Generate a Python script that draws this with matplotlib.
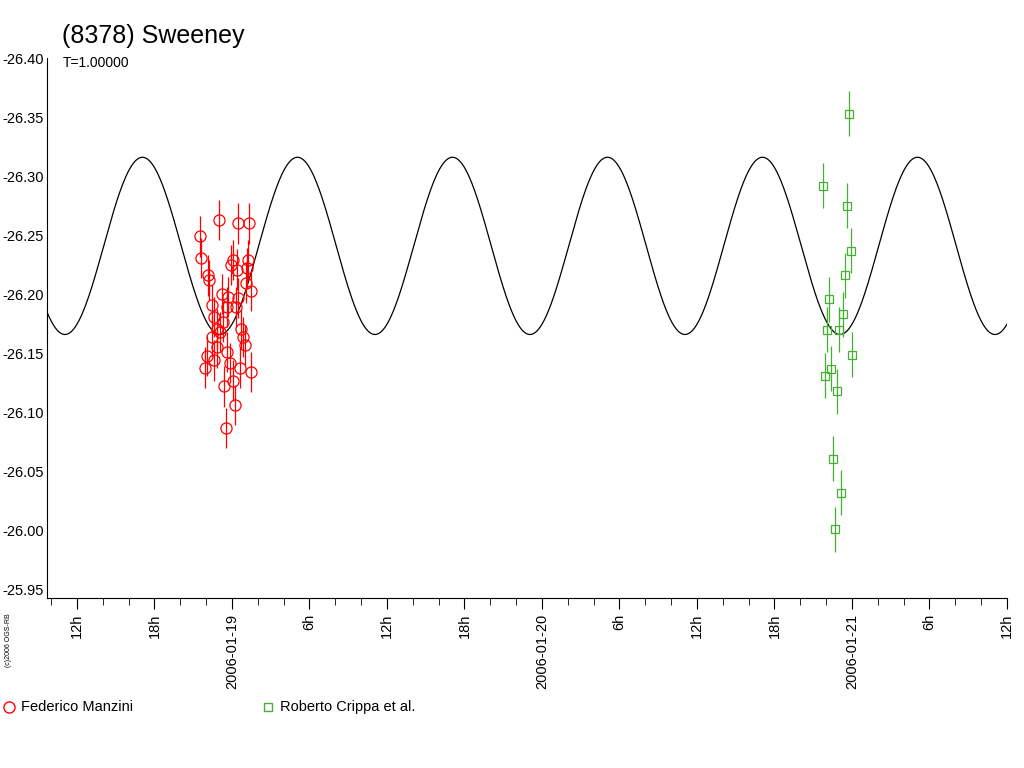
import numpy as np
import matplotlib
matplotlib.use("Agg")
import matplotlib.pyplot as plt
plt.rcParams['font.family'] = ['Liberation Sans', 'DejaVu Sans']

# hours relative to 2006-01-19 00:00 UT
red_t = [-0.98,0.49,1.34,-2.48,-2.40,0.08,1.26,-0.08,0.41,1.18,-1.83,-1.76,1.08,1.47,-0.77,-0.29,0.49,
         -1.53,-0.41,0.31,-1.37,-0.70,-1.16,0.70,-0.93,-1.57,0.87,1.01,-1.16,-1.96,-0.36,-1.37,-0.15,
         -2.09,0.62,1.47,0.10,-0.60,0.23,-0.49]
red_m = [-26.263,-26.260,-26.260,-26.249,-26.231,-26.229,-26.229,-26.225,-26.221,-26.222,-26.216,-26.212,
         -26.210,-26.203,-26.200,-26.198,-26.197,-26.191,-26.189,-26.189,-26.181,-26.177,-26.171,-26.171,
         -26.168,-26.164,-26.164,-26.157,-26.155,-26.148,-26.151,-26.144,-26.142,-26.138,-26.138,-26.134,
         -26.127,-26.122,-26.106,-26.087]
red_err = 0.017
green_t = [47.74,45.78,47.61,47.90,47.43,46.22,47.30,46.04,46.97,48.00,45.91,46.35,46.84,46.53,47.17,46.70]
green_m = [-26.353,-26.292,-26.275,-26.237,-26.216,-26.196,-26.183,-26.170,-26.170,-26.149,-26.131,
           -26.137,-26.118,-26.061,-26.032,-26.001]
green_err = 0.019
period_h = 12.0
mean_mag = -26.241
amplitude = 0.075
t_min = -0.93

xticks = list(range(-12, 61, 6))
xlabels = ["12h","18h","2006-01-19","6h","12h","18h","2006-01-20","6h","12h","18h","2006-01-21","6h","12h"]
yticks = [-26.40,-26.35,-26.30,-26.25,-26.20,-26.15,-26.10,-26.05,-26.00,-25.95]

fig = plt.figure(figsize=(10.24,7.68), dpi=100)
ax = fig.add_axes([47/1024, 1-598/768, 960/1024, 540/768])
tt = np.linspace(-14.32, 60, 2000)
ax.plot(tt, mean_mag + amplitude*np.cos(2*np.pi*(tt-t_min)/period_h), color='black', lw=0.9)
ax.errorbar(red_t, red_m, yerr=red_err, fmt='o', mfc='none', mec='red', ecolor='red', ms=8, mew=0.9, elinewidth=0.9)
ax.errorbar(green_t, green_m, yerr=green_err, fmt='s', mfc='none', mec='#44b030', ecolor='#44b030', ms=6, mew=0.9, elinewidth=0.9)
ax.set_xlim(-14.32, 60)
ax.set_ylim(-25.943, -26.40)
ax.set_yticks(yticks)
ax.set_yticklabels([f"{v:.2f}" for v in yticks])
ax.set_xticks(xticks)
ax.set_xticklabels(xlabels, rotation=90, fontsize=10.5)
ax.set_xticks(np.arange(-14, 61, 2), minor=True)
ax.tick_params(axis='x', which='major', length=8, direction='out')
ax.tick_params(axis='x', which='minor', length=5, direction='out')
ax.tick_params(axis='y', length=0, labelsize=10.5, pad=2)
for s in ['top','right']:
    ax.spines[s].set_visible(False)
fig.text(62/1024, 1-36/768, "(8378) Sweeney", fontsize=18, va='center')
fig.text(63/1024, 1-63/768, "T=1.00000", fontsize=10, va='center')
fig.text(5/1024, 1-640/768, "(c)2006 OGS-RB", fontsize=5, rotation=90, va='center')
fig.lines.append(plt.Line2D([9/1024],[1-707/768], marker='o', mfc='none', mec='red', ms=8, transform=fig.transFigure))
fig.text(21/1024, 1-707/768, "Federico Manzini", fontsize=10.5, va='center')
fig.lines.append(plt.Line2D([268/1024],[1-707/768], marker='s', mfc='none', mec='#44b030', ms=6, transform=fig.transFigure))
fig.text(280/1024, 1-707/768, "Roberto Crippa et al.", fontsize=10.5, va='center')
fig.savefig("out.png", dpi=100)
